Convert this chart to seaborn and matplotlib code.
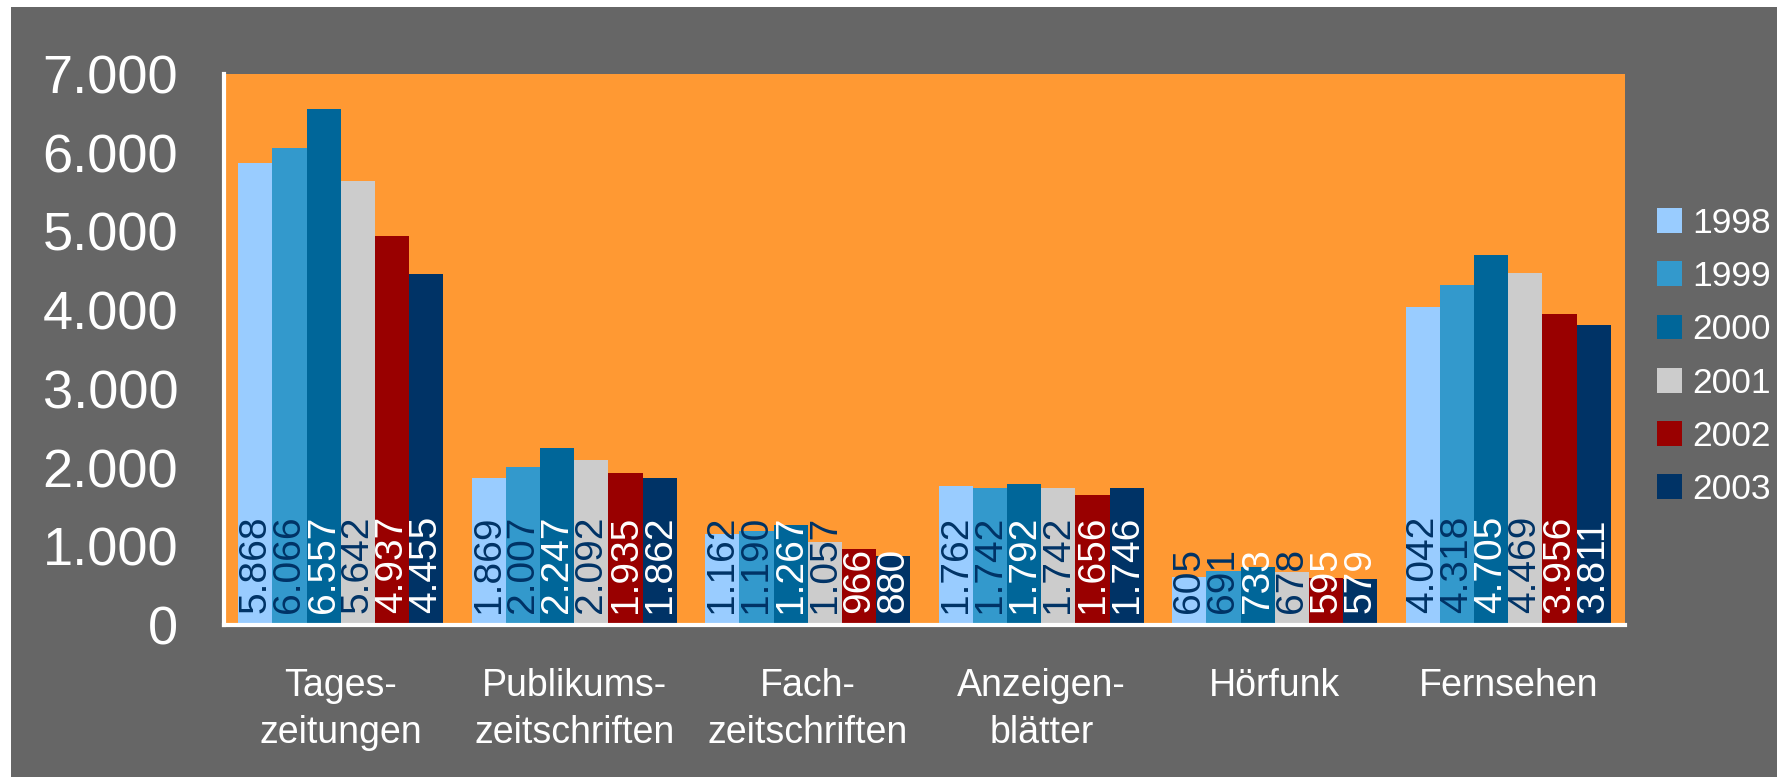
import matplotlib
matplotlib.use("Agg")
import matplotlib.pyplot as plt
import seaborn as sns
import pandas as pd
from matplotlib.patches import Rectangle

categories = ["Tages-\nzeitungen", "Publikums-\nzeitschriften", "Fach-\nzeitschriften",
              "Anzeigen-\nblätter", "Hörfunk", "Fernsehen"]
years = ["1998", "1999", "2000", "2001", "2002", "2003"]
v1998 = [5868, 1869, 1162, 1762, 605, 4042]
v1999 = [6066, 2007, 1190, 1742, 691, 4318]
v2000 = [6557, 2247, 1267, 1792, 733, 4705]
v2001 = [5642, 2092, 1057, 1742, 678, 4469]
v2002 = [4937, 1935, 966, 1656, 595, 3956]
v2003 = [4455, 1862, 880, 1746, 579, 3811]
yticks = [0, 1000, 2000, 3000, 4000, 5000, 6000, 7000]

series = [v1998, v1999, v2000, v2001, v2002, v2003]
colors = ["#99CCFF", "#3399CC", "#006699", "#CCCCCC", "#990000", "#003366"]
label_colors = ["#003366", "#003366", "white", "#003366", "white", "white"]

rows = []
for y, vals in zip(years, series):
    for c, v in zip(categories, vals):
        rows.append({"cat": c, "year": y, "value": v})
df = pd.DataFrame(rows)

sns.set_theme(style="white")
plt.rcParams["font.family"] = ["Liberation Sans", "DejaVu Sans"]

W, H = 1780, 777
fig = plt.figure(figsize=(W / 100, H / 100), dpi=100, facecolor="white")
fig.patches.append(Rectangle((11 / W, 0), (W - 14) / W, (H - 7) / H,
                             transform=fig.transFigure, facecolor="#666666",
                             edgecolor="none", zorder=-10))

ax = fig.add_axes([224 / W, (H - 625) / H, (1625 - 224) / W, (625 - 74) / H])
sns.barplot(data=df, x="cat", y="value", hue="year", hue_order=years,
            order=categories, palette=colors, width=0.88, saturation=1,
            gap=0, ax=ax, edgecolor="none", linewidth=0)

ax.set_facecolor("#FF9933")
ax.set_xlim(-0.5, 5.5)
ax.set_ylim(0, 7000)
ax.set_yticks(yticks)
ax.set_yticklabels([f"{t:,}".replace(",", ".") for t in yticks])
ax.set_xlabel("")
ax.set_ylabel("")
ax.tick_params(axis="y", length=0, pad=33, labelsize=39, labelcolor="white")
ax.tick_params(axis="x", length=0, pad=31, labelsize=27, labelcolor="white")
for lab in ax.get_xticklabels():
    lab.set_linespacing(1.4)
for s in ["top", "right"]:
    ax.spines[s].set_visible(False)
for s in ["left", "bottom"]:
    ax.spines[s].set_color("white")
    ax.spines[s].set_linewidth(3)
ax.grid(False)

for cont, vals, lc in zip(ax.containers, series, label_colors):
    for bar, v in zip(cont, vals):
        cx = bar.get_x() + bar.get_width() / 2
        ax.annotate(f"{v:,}".replace(",", "."), xy=(cx, 0), xytext=(0, 8.5),
                    textcoords="offset points", rotation=90, ha="center",
                    va="bottom", fontsize=28, color=lc, clip_on=False)

handles, labels = ax.get_legend_handles_labels()
if ax.get_legend() is not None:
    ax.get_legend().remove()
leg = fig.legend(handles, labels, loc="upper left",
                 bbox_to_anchor=(1657 / W, 1 - 207 / H),
                 frameon=False, fontsize=25.5, handlelength=0.7,
                 handleheight=0.7, handletextpad=0.3, labelspacing=0.57,
                 borderpad=0, borderaxespad=0)
for t in leg.get_texts():
    t.set_color("white")

fig.savefig("out.png", dpi=100, facecolor="white")
